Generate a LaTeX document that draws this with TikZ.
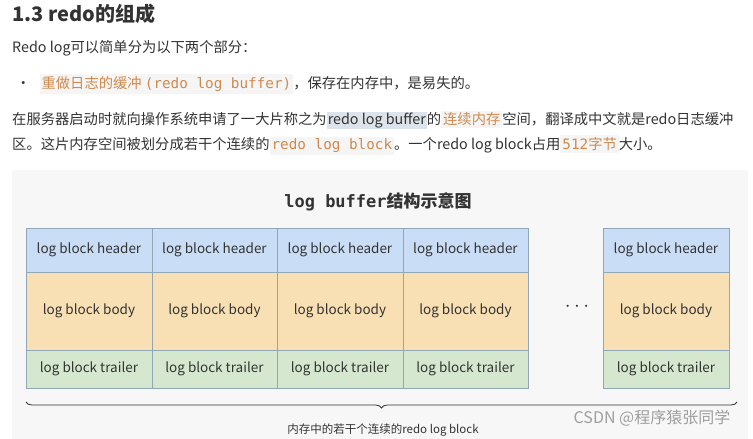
\documentclass[tikz,border=0pt]{standalone}
\usepackage{fontspec}
\setmainfont{Noto Sans CJK SC}
\setmonofont{DejaVu Sans Mono}
\usetikzlibrary{positioning, decorations.pathreplacing}
\definecolor{txt}{HTML}{333333}
\definecolor{codefg}{HTML}{D08A4E}
\definecolor{codebg}{HTML}{F5F5F5}
\definecolor{selbg}{HTML}{DDE3EA}
\definecolor{panel}{HTML}{F7F7F7}
\definecolor{hdrfill}{HTML}{C9DDF6}
\definecolor{bodyfill}{HTML}{F8E0B4}
\definecolor{trlfill}{HTML}{D5E8CF}
\definecolor{cellline}{HTML}{8FA7B8}
\newcommand{\code}[1]{{\setlength{\fboxsep}{2pt}\colorbox{codebg}{\color{codefg}#1}}}
\begin{document}
\begin{tikzpicture}[x=1pt, y=-1pt,
    line/.style={anchor=west, inner sep=0pt, font=\fontsize{14.3}{16}\selectfont, text=txt},
    cell/.style={rectangle, draw=cellline, minimum width=125.5pt, anchor=north west, inner sep=0pt, font=\fontsize{13.5}{15}\selectfont, text=txt},
    hdr/.style={cell, fill=hdrfill, minimum height=44pt},
    bdy/.style={cell, fill=bodyfill, minimum height=78pt},
    trl/.style={cell, fill=trlfill, minimum height=38pt}
]
\useasboundingbox[fill=white] (0,0) rectangle (753,439);

% Text above
\node[line, font=\fontsize{20}{22}\selectfont\bfseries] (head) at (12,14) {1.3 redo的组成};
\node[line] (intro) at (12,48) {Redo log可以简单分为以下两个部分：};
\node[line] (bullet) at (16,84) {{\Large\textbullet}\hspace{9pt}\code{重做日志的缓冲 \texttt{(redo log buffer)}}，保存在内存中，是易失的。};
\node[line] (para1) at (12,120) {在服务器启动时就向操作系统申请了一大片称之为{\setlength{\fboxsep}{1pt}\colorbox{selbg}{redo log buffer}}的\code{连续内存}空间，翻译成中文就是redo日志缓冲};
\node[line] (para2) at (12,145) {区。这片内存空间被划分成若干个连续的\code{\texttt{redo log block}}。一个redo log block占用\code{\texttt{512}字节}大小。};

% Diagram panel
\fill[panel] (12,170) rectangle (748,439);
\node[font=\fontsize{17}{19}\selectfont\bfseries, text=txt] (title) at (378,202) {\texttt{log buffer}结构示意图};

\foreach \i/\x in {1/26, 2/151.5, 3/277, 4/402.5, 5/603} {
  \node[hdr] (h\i) at (\x,228) {log block header};
  \node[bdy] (b\i) at (\x,272) {log block body};
  \node[trl] (t\i) at (\x,350) {log block trailer};
}
\node[font=\fontsize{20}{20}\selectfont\bfseries, text=txt] (dots) at (577,307) {$\cdots$};

% Brace
\coordinate (bl) at (26,402);
\coordinate (br) at (737,402);
\draw[txt, thick, decorate, decoration={brace, mirror, amplitude=6pt}] (bl) -- (br);
\node[font=\fontsize{11.5}{13}\selectfont, text=txt] (cap) at (383,430) {内存中的若干个连续的redo log block};
\node[font=\fontsize{16}{18}\selectfont, text=gray!75] (mark) at (652,418) {CSDN @程序猿张同学};
\end{tikzpicture}
\end{document}
